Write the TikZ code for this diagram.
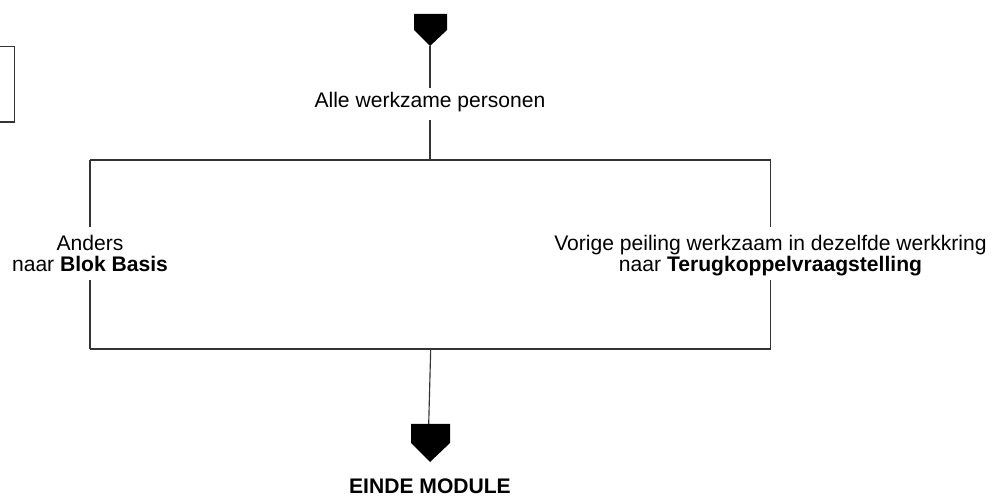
\documentclass[tikz,border=0pt]{standalone}
\usepackage{fontspec}
\setmainfont{Liberation Sans}
\usepackage{tikz}
\usetikzlibrary{positioning}

\tikzset{
	flow/.style={draw=black!80, line width=0.65pt},
	flowtext/.style={inner sep=0pt, align=center, font=\fontsize{12}{11.8}\selectfont},
	marker/.style={fill=black}
}

\begin{document}
\begin{tikzpicture}[x=0.02cm, y=-0.02cm]
				\useasboundingbox (0, 0) rectangle (995, 499) ;

				\def\midx{430}
				\def\leftx{90}
				\def\rightx{770.5}
				\def\topy{160}
				\def\boty{349}

				\draw[flow] (-2, 46.5) -- (14.5, 46.5) -- (14.5, 122) -- (-2, 122) ;

				\coordinate (start) at (\midx, 46) ;
				\fill[marker] (start) -- (414, 30) -- (414, 14) -- (447, 14) -- (447, 30) -- cycle ;

				\node[flowtext, anchor=base, text height=11.3pt, text depth=6.8pt] (alle) at (\midx, 108) {Alle werkzame personen} ;

				\coordinate (split) at (\midx, \topy) ;
				\coordinate (tl) at (\leftx, \topy) ;
				\coordinate (tr) at (\rightx, \topy) ;
				\coordinate (bl) at (\leftx, \boty) ;
				\coordinate (br) at (\rightx, \boty) ;
				\coordinate (join) at (430.7, \boty) ;

				\node[flowtext, anchor=north, text height=25.2pt, text depth=4.8pt] (anders) at (\leftx, 227) {Anders\\naar \textbf{Blok Basis}} ;
				\node[flowtext, anchor=north, text height=25.2pt, text depth=4.8pt] (vorige) at (\rightx, 227) {Vorige peiling werkzaam in dezelfde werkkring\\naar \textbf{Terugkoppelvraagstelling}} ;

				\draw[flow] (start) -- (alle.north) ;
				\draw[flow] (alle.south) -- (split) ;
				\draw[flow] (tl) -- (tr) ;
				\draw[flow] (tl) -- (anders.north) ;
				\draw[flow] (anders.south) -- (bl) ;
				\draw[flow] (tr) -- (vorige.north) ;
				\draw[flow] (vorige.south) -- (br) ;
				\draw[flow] (bl) -- (br) ;

				\coordinate (stop) at (428.7, 424) ;
				\draw[flow] (join) -- (stop) ;
				\fill[marker] (430, 462) -- (411, 443) -- (411, 424) -- (450, 424) -- (450, 443) -- cycle ;

				\node[flowtext, anchor=base, font=\fontsize{12}{12.75}\selectfont\bfseries] (einde) at (\midx, 494) {EINDE MODULE} ;
			\end{tikzpicture}
\end{document}
